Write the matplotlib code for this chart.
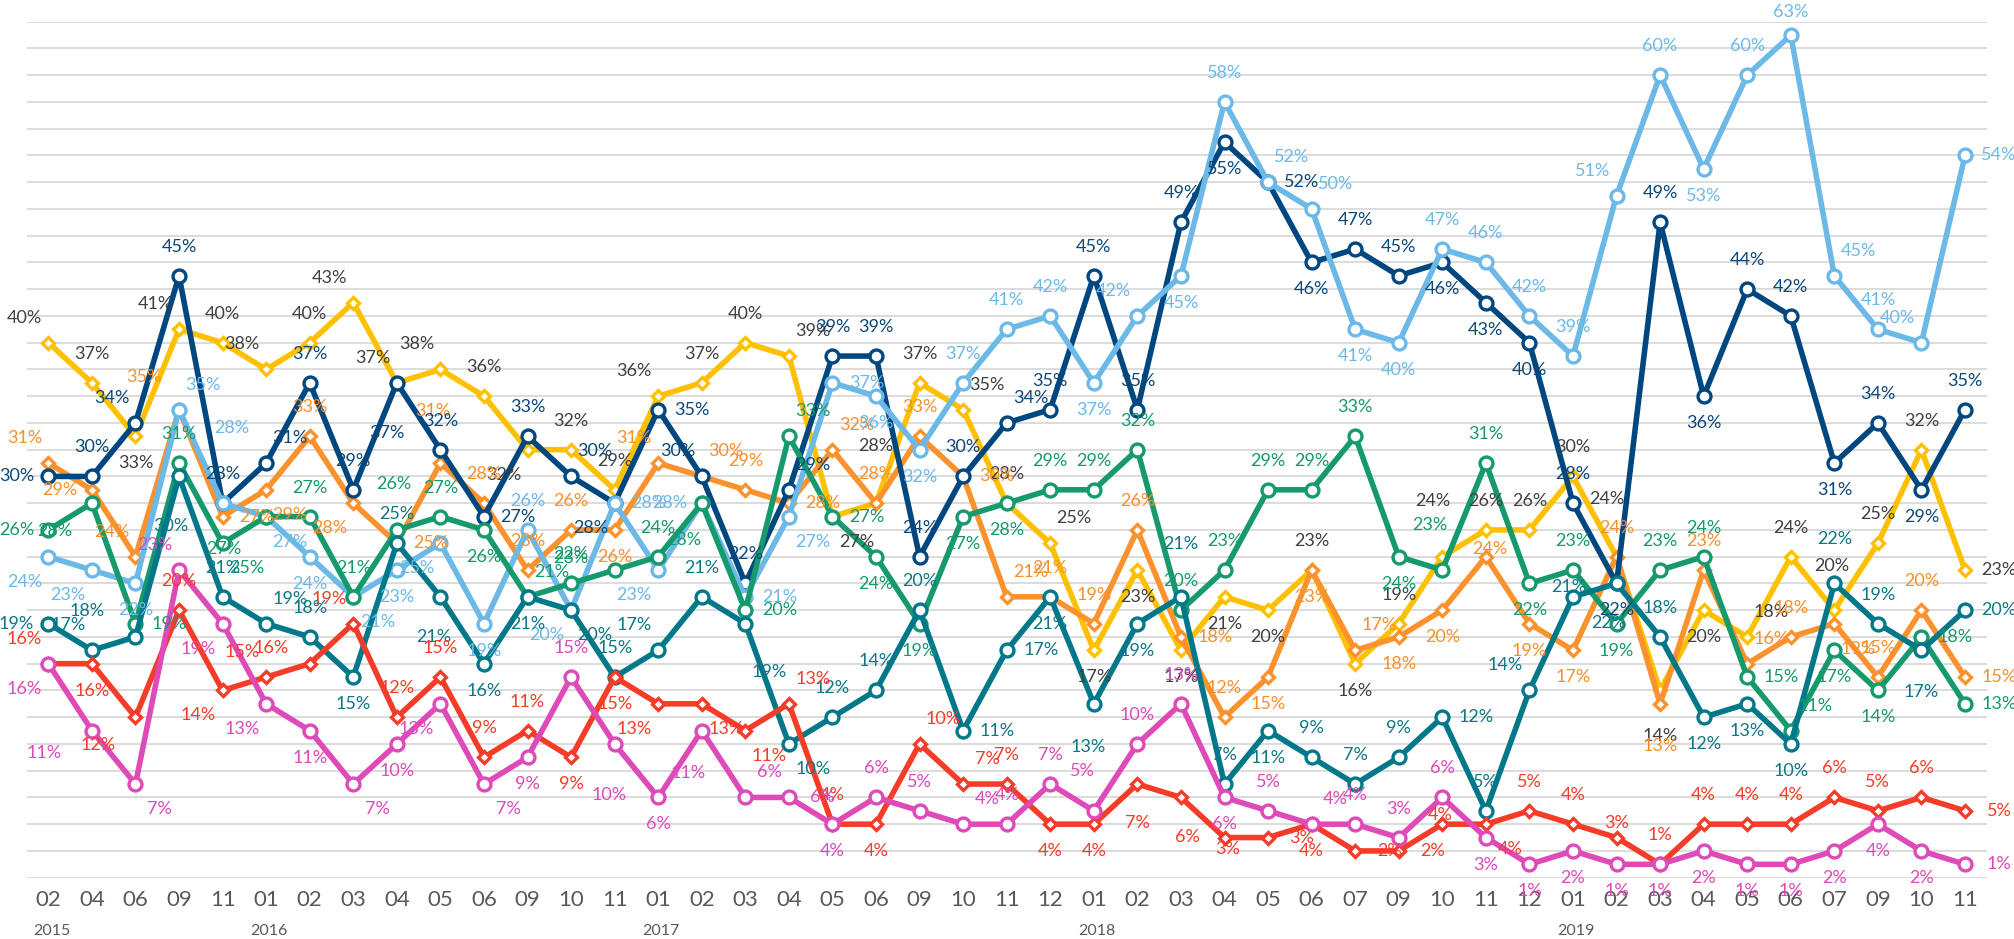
import numpy as np
import matplotlib
matplotlib.use('Agg')
import matplotlib.pyplot as plt

plt.rcParams['font.family'] = ['Lato', 'DejaVu Sans']

# category axis: month, with the year written under the first month of each year
months = ['02', '04', '06', '09', '11',
          '01', '02', '03', '04', '05', '06', '09', '10', '11',
          '01', '02', '03', '04', '05', '06', '09', '10', '11', '12',
          '01', '02', '03', '04', '05', '06', '07', '09', '10', '11', '12',
          '01', '02', '03', '04', '05', '06', '07', '09', '10', '11']
years = ['2015', '2016', '2017', '2018', '2019']
year_start = [0, 5, 14, 24, 35]

# values in %
navy = [30, 30, 34, 45, 28, 31, 37, 29, 37, 32, 27, 33, 30, 28, 35, 30, 22, 29, 39, 39,
        24, 30, 34, 35, 45, 35, 49, 55, 52, 46, 47, 45, 46, 43, 40, 28, 22, 49, 36, 44,
        42, 31, 34, 29, 35]
lblue = [24, 23, 22, 35, 28, 27, 24, 21, 23, 25, 19, 26, 20, 28, 23, 28, 21, 27, 37, 36,
         32, 37, 41, 42, 37, 42, 45, 58, 52, 50, 41, 40, 47, 46, 42, 39, 51, 60, 53, 60,
         63, 45, 41, 40, 54]
yellow = [40, 37, 33, 41, 40, 38, 40, 43, 37, 38, 36, 32, 32, 29, 36, 37, 40, 39, 27, 28,
          37, 35, 28, 25, 17, 23, 17, 21, 20, 23, 16, 19, 24, 26, 26, 30, 24, 14, 20, 18,
          24, 20, 25, 32, 23]
orange = [31, 29, 24, 35, 27, 29, 33, 28, 25, 31, 28, 23, 26, 26, 31, 30, 29, 28, 32, 28,
          33, 30, 21, 21, 19, 26, 18, 12, 15, 23, 17, 18, 20, 24, 19, 17, 24, 13, 23, 16,
          18, 19, 15, 20, 15]
green = [26, 28, 19, 31, 25, 27, 27, 21, 26, 27, 26, 21, 22, 23, 24, 28, 20, 33, 27, 24,
         19, 27, 28, 29, 29, 32, 20, 23, 29, 29, 33, 24, 23, 31, 22, 23, 19, 23, 24, 15,
         11, 17, 14, 18, 13]
teal = [19, 17, 18, 30, 21, 19, 18, 15, 25, 21, 16, 21, 20, 15, 17, 21, 19, 10, 12, 14,
        20, 11, 17, 21, 13, 19, 21, 7, 11, 9, 7, 9, 12, 5, 14, 21, 22, 18, 12, 13,
        10, 22, 19, 17, 20]
red = [16, 16, 12, 20, 14, 15, 16, 19, 12, 15, 9, 11, 9, 15, 13, 13, 11, 13, 4, 4,
       10, 7, 7, 4, 4, 7, 6, 3, 3, 4, 2, 2, 4, 4, 5, 4, 3, 1, 4, 4,
       4, 6, 5, 6, 5]
magenta = [16, 11, 7, 23, 19, 13, 11, 7, 10, 13, 7, 9, 15, 10, 6, 11, 6, 6, 4, 6,
           5, 4, 4, 7, 5, 10, 13, 6, 5, 4, 4, 3, 6, 3, 1, 2, 1, 1, 2, 1,
           1, 2, 4, 2, 1]

# label placement, keypad style (8 above, 2 below, 4 left, 6 right, 7/9/1/3 corners)
offs = {'8': (0, 29), '2': (0, -27), '4': (-32, 0), '6': (34, 0),
        '7': (-24, 25), '9': (24, 25), '1': (-24, -25), '3': (24, -25), '5': (0, 0)}

series = [
    # values, line colour, label colour, marker, size, positions, manual tweaks
    (yellow, '#FFC000', '#404040', 'D', 6.5,
     '7827878777818878893889892222282888888229' + '88886',
     {19: (0, 57), 32: (-9, 56), 36: (-10, 58), 37: (0, -46), 41: (-3, 44)}),
    (orange, '#FB922E', '#F7902C', 'D', 6.5,
     '747763816888827986988698886822922522828983886',
     {3: (-35, 33), 9: (-8, 52), 33: (4, 8), 37: (0, -42)}),
    (navy, '#00467F', '#0B4779', 'o', 9.3,
     '487889882868916789888898888262882228282882828',
     {8: (-10, -50)}),
    (lblue, '#6CB9E8', '#6CB9E8', 'o', 9.3,
     '112983232128161463622888272899228888782889876',
     {4: (9, 75), 40: (0, 23)}),
    (green, '#169A6D', '#169A6D', 'o', 9.3,
     '416831888829878169622228888888827828288692266',
     {1: (-37, -28), 5: (-42, -32), 8: (-3, 46), 13: (-44, 12), 15: (-18, -37), 32: (-12, 45)}),
    (teal, '#00788A', '#0E7685', 'o', 9.3,
     '477289828222387833888662228828886875282228826',
     {2: (-48, 26), 3: (-8, -50), 9: (-7, -40), 16: (24, -48), 24: (-6, -43), 26: (0, 53),
      35: (-4, 10), 36: (-8, -40), 41: (0, 44), 43: (0, -42)}),
    (red, '#F43C28', '#F43C28', 'D', 6.5,
     '721817778888221339829982222262668388888888886',
     {2: (-37, -28), 6: (-39, 16), 25: (0, -39), 26: (6, -40), 27: (3, -11), 32: (-2, 9), 36: (0, 15)}),
    (magenta, '#DE4AB8', '#DE4AB8', 'o', 9.3,
     '113711232132822296288988888289888222222222226',
     {1: (-48, -22), 13: (-6, -51), 15: (-14, -42), 24: (-11, 40)}),
]

fig = plt.figure(figsize=(20.14, 9.39), dpi=100)
ax = fig.add_axes([0.0132, 0.0653, 0.9733, 0.9116])
x = np.arange(len(months))

for k, (vals, col, tcol, mk, ms, pos, fix) in enumerate(series):
    ax.plot(x, vals, color=col, lw=4.0, marker=mk, ms=ms, mfc='white', mec=col, mew=2.4,
            solid_joinstyle='round', zorder=3 + k)
    for i, v in enumerate(vals):
        dx, dy = fix.get(i, offs[pos[i]])
        ax.annotate(f'{v}%', (i, v), xytext=(dx, dy), textcoords='offset pixels',
                    ha='center', va='center', color=tcol, fontsize=13, zorder=20)

ax.set_xlim(-0.5, len(months) - 0.5)
ax.set_ylim(0, 64)
ax.set_yticks(np.arange(0, 65, 2))
ax.yaxis.grid(True, color='#D9D9D9', lw=1.3)
ax.set_axisbelow(True)
ax.tick_params(axis='y', left=False, labelleft=False)
for s in ax.spines.values():
    s.set_visible(False)

ax.set_xticks(x, months)
ax.tick_params(axis='x', length=0, pad=9, labelsize=16, labelcolor='#595959')

for yr, i in zip(years, year_start):
    ax.annotate(yr, (i, 0), xycoords=('data', 'axes fraction'), xytext=(3, -53),
                textcoords='offset pixels', ha='center', va='center',
                fontsize=11.5, color='#595959')

fig.savefig('out.png', dpi=100)
